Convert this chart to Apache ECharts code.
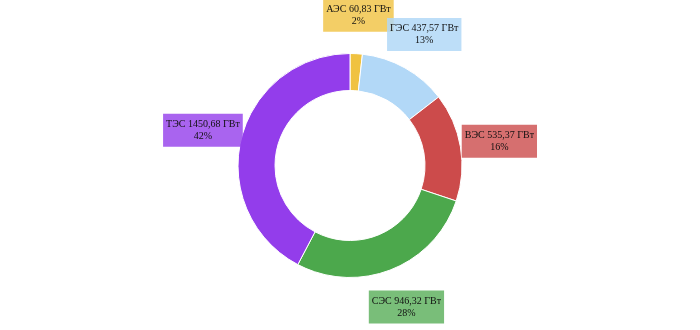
<!DOCTYPE html>
<html><head><meta charset="utf-8">
<script src="https://cdn.jsdelivr.net/npm/echarts@6/dist/echarts.min.js"></script>
<style>html,body{margin:0;padding:0;background:#fff}#c{width:700px;height:330px}</style>
</head><body><div id="c"></div>
<script>
const categories = ['АЭС', 'ГЭС', 'ВЭС', 'СЭС', 'ТЭС'];
const values = [60.83, 437.57, 535.37, 946.32, 1450.68];
const colors = ['#f0c240', '#b2d8f7', '#cc4b4b', '#4ca84c', '#933deb'];
const labelBg = ['rgba(240,194,64,0.8)', 'rgba(178,216,247,0.85)', 'rgba(204,75,75,0.8)', 'rgba(76,168,76,0.75)', 'rgba(147,61,235,0.8)'];
const total = values.reduce((a, b) => a + b, 0);
const fmt = v => v.toFixed(2).replace('.', ',');

const chart = echarts.init(document.getElementById('c'));
chart.setOption({
  animation: false,
  series: [
    {
      type: 'pie',
      center: [350, 165.5],
      radius: [75, 112],
      startAngle: 90,
      clockwise: true,
      itemStyle: { borderColor: '#fff', borderWidth: 1 },
      label: { show: false },
      labelLine: { show: false },
      data: categories.map((n, i) => ({ name: n, value: values[i], itemStyle: { color: colors[i] } }))
    },
    {
      type: 'pie',
      silent: true,
      center: [350, 166.5],
      radius: [140, 157],
      startAngle: 90,
      clockwise: true,
      avoidLabelOverlap: false,
      labelLayout: { hideOverlap: false },
      itemStyle: { color: 'rgba(0,0,0,0)' },
      labelLine: { show: false },
      label: {
        show: true,
        position: 'inside',
        fontFamily: '"Liberation Serif", "Times New Roman", serif',
        fontSize: 10,
        color: '#111',
        lineHeight: 12,
        align: 'center',
        padding: [5, 3, 4, 3],
        formatter: p => p.name + ' ' + fmt(p.value) + ' ГВт\n' + Math.round(p.value / total * 100) + '%'
      },
      data: categories.map((n, i) => ({ name: n, value: values[i], label: { backgroundColor: labelBg[i] } }))
    }
  ]
});
</script></body></html>
